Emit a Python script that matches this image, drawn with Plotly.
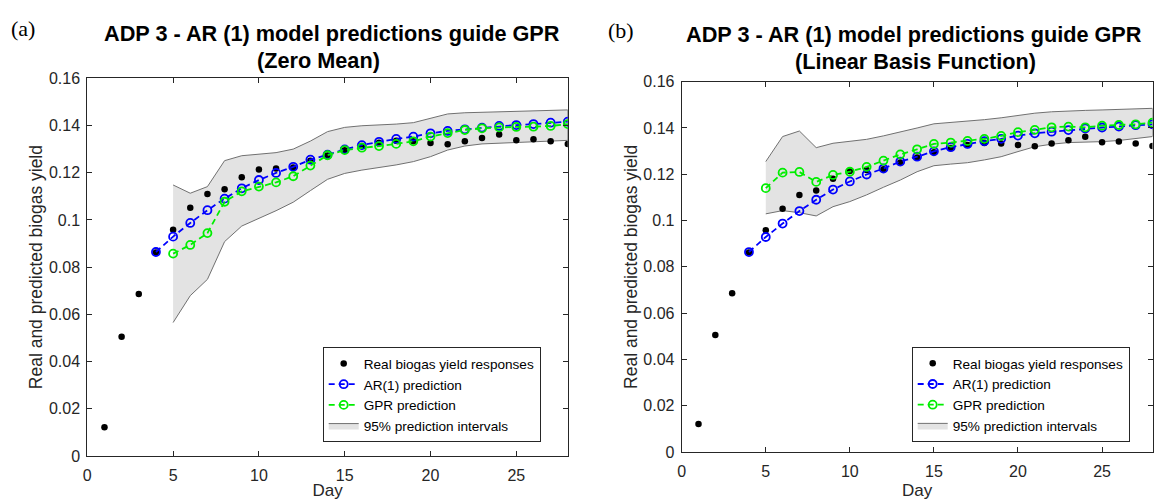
import plotly.graph_objects as go

# ---------------- data ----------------
days = list(range(1, 29))
real_yield = [0.0121, 0.0505, 0.0686, 0.0862, 0.0958, 0.1051, 0.1110, 0.1130, 0.1181, 0.1214,
              0.1218, 0.1222, 0.1251, 0.1273, 0.1295, 0.1313, 0.1327, 0.1335, 0.1333, 0.1326,
              0.1321, 0.1333, 0.1347, 0.1362, 0.1338, 0.1342, 0.1333, 0.1322]

ar_days = list(range(4, 29))
ar_pred = [0.0864, 0.0929, 0.0987, 0.1041, 0.1090, 0.1134, 0.1169, 0.1199, 0.1225, 0.1255,
           0.1276, 0.1299, 0.1317, 0.1331, 0.1343, 0.1353, 0.1367, 0.1377, 0.1384, 0.1391,
           0.1398, 0.1402, 0.1406, 0.1412, 0.1416]

gpr_days = list(range(5, 29))
gpr_zero = [0.0857, 0.0894, 0.0944, 0.1077, 0.1121, 0.1141, 0.1159, 0.1185, 0.1230, 0.1274,
            0.1296, 0.1306, 0.1313, 0.1322, 0.1333, 0.1353, 0.1368, 0.1381, 0.1388, 0.1392,
            0.1394, 0.1395, 0.1398, 0.1406]
upper_zero = [0.1148, 0.1113, 0.1141, 0.1251, 0.1272, 0.1278, 0.1285, 0.1300, 0.1334, 0.1374,
              0.1392, 0.1399, 0.1402, 0.1406, 0.1412, 0.1430, 0.1449, 0.1454, 0.1456, 0.1458,
              0.1460, 0.1461, 0.1463, 0.1466]
lower_zero = [0.0565, 0.0679, 0.0748, 0.0908, 0.0974, 0.1007, 0.1039, 0.1075, 0.1124, 0.1172,
              0.1197, 0.1211, 0.1223, 0.1233, 0.1247, 0.1268, 0.1296, 0.1313, 0.1322, 0.1326,
              0.1329, 0.1331, 0.1334, 0.1337]

gpr_lin = [0.1140, 0.1207, 0.1210, 0.1167, 0.1197, 0.1211, 0.1232, 0.1259, 0.1286, 0.1308,
           0.1331, 0.1337, 0.1344, 0.1353, 0.1366, 0.1382, 0.1392, 0.1403, 0.1406, 0.1403,
           0.1410, 0.1413, 0.1416, 0.1423]
upper_lin = [0.1255, 0.1363, 0.1387, 0.1315, 0.1334, 0.1341, 0.1351, 0.1366, 0.1382, 0.1400,
             0.1418, 0.1424, 0.1427, 0.1436, 0.1444, 0.1454, 0.1464, 0.1470, 0.1474, 0.1476,
             0.1478, 0.1480, 0.1482, 0.1485]
lower_lin = [0.1029, 0.1043, 0.1034, 0.1020, 0.1060, 0.1082, 0.1111, 0.1144, 0.1175, 0.1211,
             0.1237, 0.1244, 0.1250, 0.1262, 0.1276, 0.1298, 0.1319, 0.1330, 0.1337, 0.1339,
             0.1341, 0.1346, 0.1353, 0.1363]

x_ticks = [0, 5, 10, 15, 20, 25]
panel_labels = ["(a)", "(b)"]
title_main = "ADP 3 - AR (1) model predictions guide GPR"
subtitles = ["(Zero Mean)", "(Linear Basis Function)"]
legend_names = ["Real biogas yield responses", "AR(1) prediction", "GPR prediction",
                "95% prediction intervals"]

# ---------------- style ----------------
W, H = 1154, 500
AX = "#262626"
BLUE = "#0000ff"
GREEN = "#00ee00"
FILL = "#e3e3e3"
EDGE = "#707070"
FONT = "Liberation Sans"


def px(x):
    return x / W


def py(y):
    return 1 - y / H


fig = go.Figure()

panels = [
    dict(xa="x", ya="y", leg="legend", gpr=gpr_zero, up=upper_zero, lo=lower_zero),
    dict(xa="x2", ya="y2", leg="legend2", gpr=gpr_lin, up=upper_lin, lo=lower_lin),
]

for p in panels:
    band_x = gpr_days + gpr_days[::-1]
    band_y = p["up"] + p["lo"][::-1]
    fig.add_trace(go.Scatter(
        x=band_x, y=band_y, mode="lines", fill="toself", fillcolor=FILL,
        line=dict(color=EDGE, width=1), name=legend_names[3],
        xaxis=p["xa"], yaxis=p["ya"], legend=p["leg"], legendrank=4, hoverinfo="skip"))
    fig.add_trace(go.Scatter(
        x=days, y=real_yield, mode="markers",
        marker=dict(color="black", size=6.5, symbol="circle"),
        name=legend_names[0], xaxis=p["xa"], yaxis=p["ya"], legend=p["leg"], legendrank=1))
    fig.add_trace(go.Scatter(
        x=ar_days, y=ar_pred, mode="lines+markers",
        line=dict(color=BLUE, width=1.8, dash="6px,4px"),
        marker=dict(symbol="circle-open", size=8, color=BLUE, line=dict(width=1.8)),
        name=legend_names[1], xaxis=p["xa"], yaxis=p["ya"], legend=p["leg"], legendrank=2))
    fig.add_trace(go.Scatter(
        x=gpr_days, y=p["gpr"], mode="lines+markers",
        line=dict(color=GREEN, width=1.8, dash="6px,4px"),
        marker=dict(symbol="circle-open", size=8, color=GREEN, line=dict(width=1.8)),
        name=legend_names[2], xaxis=p["xa"], yaxis=p["ya"], legend=p["leg"], legendrank=3))

axis_common = dict(
    showline=True, linecolor=AX, linewidth=1, mirror="allticks",
    ticks="inside", ticklen=5, tickcolor=AX, tickwidth=1,
    showgrid=False, zeroline=False, automargin=True,
    tickfont=dict(family=FONT, size=16, color=AX),
)

xdoms = [[px(87.3), px(567.8)], [px(681.7), px(1152.5)]]
ydoms = [[py(455.9), py(78.3)], [py(452.0), py(81.7)]]

layout_axes = {}
for i, (xd, yd) in enumerate(zip(xdoms, ydoms)):
    sx = "" if i == 0 else str(i + 1)
    layout_axes["xaxis" + sx] = dict(
        axis_common, domain=xd, range=[0, 28], tickvals=x_ticks,
        anchor="y" + sx, ticklabelstandoff=5,
        title=dict(text="Day", font=dict(family=FONT, size=17, color=AX), standoff=5))
    layout_axes["yaxis" + sx] = dict(
        axis_common, domain=yd, range=[0, 0.16], dtick=0.02, tick0=0,
        anchor="x" + sx, ticklabelstandoff=3,
        title=dict(text="Real and predicted biogas yield",
                   font=dict(family=FONT, size=17.5, color=AX), standoff=1))

legend_common = dict(
    xanchor="left", yanchor="middle", bgcolor="white", bordercolor=AX, borderwidth=1,
    font=dict(family=FONT, size=13.6, color="black"), itemwidth=30, tracegroupgap=0,
)

annotations = []
title_pos = [(332, 33, 318, 60), (914, 34, 915, 61)]
label_pos = [(9, 28), (606, 30)]
for i in range(2):
    t1x, t1y, t2x, t2y = title_pos[i]
    annotations.append(dict(text="<b>" + title_main + "</b>", x=px(t1x), y=py(t1y),
                            xref="paper", yref="paper", xanchor="center", yanchor="middle",
                            showarrow=False, font=dict(family=FONT, size=21.7, color="black")))
    annotations.append(dict(text="<b>" + subtitles[i] + "</b>", x=px(t2x), y=py(t2y),
                            xref="paper", yref="paper", xanchor="center", yanchor="middle",
                            showarrow=False, font=dict(family=FONT, size=21.7, color="black")))
    lx, ly = label_pos[i]
    annotations.append(dict(text=panel_labels[i], x=px(lx), y=py(ly),
                            xref="paper", yref="paper", xanchor="left", yanchor="middle",
                            showarrow=False,
                            font=dict(family="Liberation Serif", size=22, color="black")))

fig.update_layout(
    width=W, height=H, autosize=False,
    margin=dict(l=0, r=0, t=0, b=0, pad=0, autoexpand=False),
    paper_bgcolor="white", plot_bgcolor="white",
    showlegend=True,
    legend=dict(legend_common, x=px(322.7), y=py(394.7)),
    legend2=dict(legend_common, x=px(911.7), y=py(394.5)),
    annotations=annotations,
    **layout_axes,
)

fig.write_html("out.html", config={"displayModeBar": False},
               post_script=["document.body.style.margin='0px';"
                            "document.body.style.overflow='hidden';"])
